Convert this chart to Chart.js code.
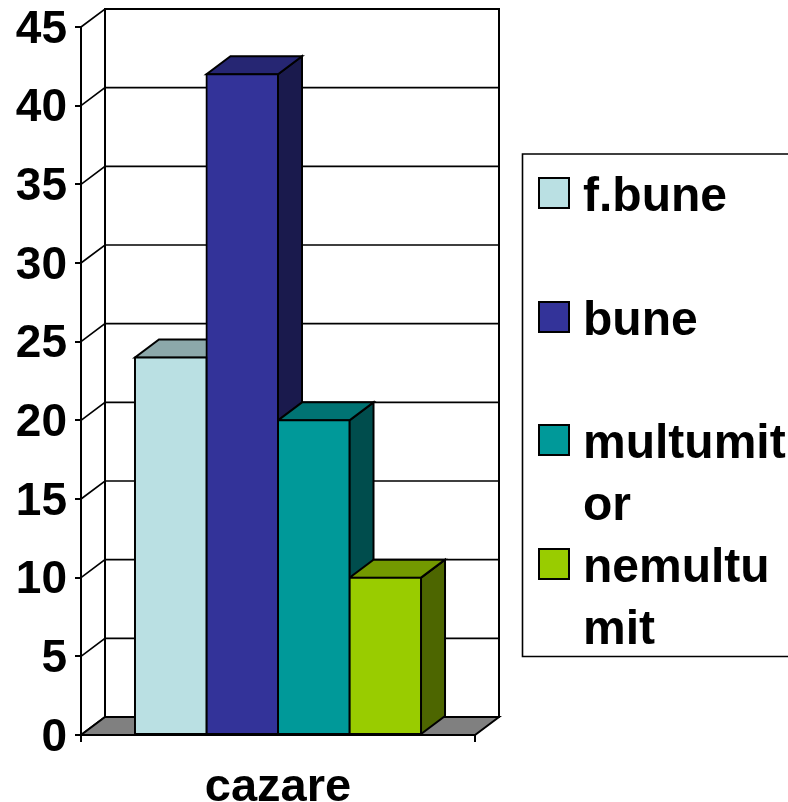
<!DOCTYPE html>
<html>
<head>
<meta charset="utf-8">
<title>cazare</title>
<script src="https://cdn.jsdelivr.net/npm/chart.js@4"></script>
<style>
  html, body { margin: 0; padding: 0; background: #fff; overflow: hidden; }
  canvas { display: block; }
</style>
</head>
<body>
<canvas id="barChart" width="788" height="802"></canvas>
<script>
// data
var categories = ['cazare'];
var seriesNames = ['f.bune', 'bune', 'multumitor', 'nemultumit'];
var legendLines = [['f.bune'], ['bune'], ['multumit', 'or'], ['nemultu', 'mit']];
var fbuneValues = [24];
var buneValues = [42];
var multumitorValues = [20];
var nemultumitValues = [10];
var frontColors = ['#BAE0E3', '#333399', '#009999', '#99CC00'];
var topColors = ['#8CA8AA', '#262673', '#007373', '#739900'];
var sideColors = ['#5D7072', '#1A1A4D', '#004D4D', '#4D6600'];

var FONT = 'bold 48px "Liberation Sans", Arial, sans-serif';
var DX = 24, DY = -18; // adancime 3D

function poly(ctx, pts, fill, lw) {
  ctx.beginPath();
  ctx.moveTo(pts[0][0], pts[0][1]);
  for (var i = 1; i < pts.length; i++) ctx.lineTo(pts[i][0], pts[i][1]);
  ctx.closePath();
  if (fill) { ctx.fillStyle = fill; ctx.fill(); }
  ctx.lineWidth = lw;
  ctx.strokeStyle = '#000';
  ctx.lineJoin = 'miter';
  ctx.stroke();
}

// pereti, podea si fetele 3D ale barelor
var walls3d = {
  id: 'walls3d',
  beforeDatasetsDraw: function(chart) {
    var ctx = chart.ctx, a = chart.chartArea, y = chart.scales.y;
    ctx.save();
    poly(ctx, [[a.left + DX, a.top + DY], [a.right + DX, a.top + DY], [a.right + DX, a.bottom + DY], [a.left + DX, a.bottom + DY]], '#fff', 2);
    y.ticks.forEach(function(t) {
      var py = y.getPixelForValue(t.value);
      ctx.beginPath();
      ctx.moveTo(a.left, py);
      ctx.lineTo(a.left + DX, py + DY);
      if (t.value > 0) ctx.lineTo(a.right + DX, py + DY);
      ctx.lineWidth = 1.6;
      ctx.strokeStyle = '#000';
      ctx.stroke();
    });
    poly(ctx, [[a.left, a.bottom], [a.right, a.bottom], [a.right + DX, a.bottom + DY], [a.left + DX, a.bottom + DY]], '#808080', 2);

    chart.data.datasets.forEach(function(ds, i) {
      var bar = chart.getDatasetMeta(i).data[0];
      var l = bar.x - bar.width / 2, r = bar.x + bar.width / 2;
      poly(ctx, [[r, bar.y], [r + DX, bar.y + DY], [r + DX, bar.base + DY], [r, bar.base]], sideColors[i], 2);
      poly(ctx, [[l, bar.y], [r, bar.y], [r + DX, bar.y + DY], [l + DX, bar.y + DY]], topColors[i], 2);
    });
    ctx.restore();
  },
  // legenda
  afterDraw: function(chart) {
    var ctx = chart.ctx;
    var swatchY = [178, 302, 425, 549];
    ctx.save();
    ctx.beginPath();
    ctx.moveTo(788, 154);
    ctx.lineTo(522.5, 154);
    ctx.lineTo(522.5, 656.5);
    ctx.lineTo(788, 656.5);
    ctx.lineWidth = 1.6;
    ctx.strokeStyle = '#000';
    ctx.stroke();
    ctx.font = FONT;
    ctx.textBaseline = 'middle';
    ctx.textAlign = 'left';
    legendLines.forEach(function(lines, i) {
      ctx.fillStyle = frontColors[i];
      ctx.fillRect(539, swatchY[i], 30, 30);
      ctx.lineWidth = 2;
      ctx.strokeStyle = '#000';
      ctx.strokeRect(539, swatchY[i], 30, 30);
      ctx.fillStyle = '#000';
      lines.forEach(function(line, k) {
        ctx.fillText(line, 583, swatchY[i] + 20 + k * 62);
      });
    });
    ctx.restore();
  }
};

var valueLists = [fbuneValues, buneValues, multumitorValues, nemultumitValues];

var ctx = document.getElementById('barChart').getContext('2d');
var barChart = new Chart(ctx, {
  type: 'bar',
  data: {
    labels: categories,
    datasets: seriesNames.map(function(name, i) {
      return {
        label: name,
        data: valueLists[i],
        backgroundColor: frontColors[i],
        borderColor: '#000',
        borderWidth: 2,
        borderSkipped: false,
        inflateAmount: 1,
        categoryPercentage: 0.726,
        barPercentage: 1
      };
    })
  },
  options: {
    responsive: false,
    animation: false,
    layout: { padding: { top: 27, right: 313, left: 0, bottom: 0 } },
    plugins: { legend: { display: false }, tooltip: { enabled: false }, title: { display: false } },
    scales: {
      x: {
        afterFit: function(scale) { scale.height = 67; scale.paddingLeft = 0; scale.paddingRight = 0; },
        grid: { offset: true, drawOnChartArea: false, color: '#000', lineWidth: 2, tickLength: 7 },
        border: { display: true, color: '#000', width: 2 },
        ticks: { color: '#000', font: { family: '"Liberation Sans", Arial, sans-serif', size: 47, weight: 'bold' }, padding: 18, maxRotation: 0 }
      },
      y: {
        min: 0,
        max: 45,
        afterFit: function(scale) { scale.width = 81; scale.paddingTop = 0; scale.paddingBottom = 0; },
        grid: { drawOnChartArea: false, color: '#000', lineWidth: 2, tickLength: 6 },
        border: { display: true, color: '#000', width: 2 },
        ticks: { stepSize: 5, color: '#000', font: { family: '"Liberation Sans", Arial, sans-serif', size: 46, weight: 'bold' }, padding: 8, labelOffset: 3 }
      }
    }
  },
  plugins: [walls3d]
});
</script>
</body>
</html>
